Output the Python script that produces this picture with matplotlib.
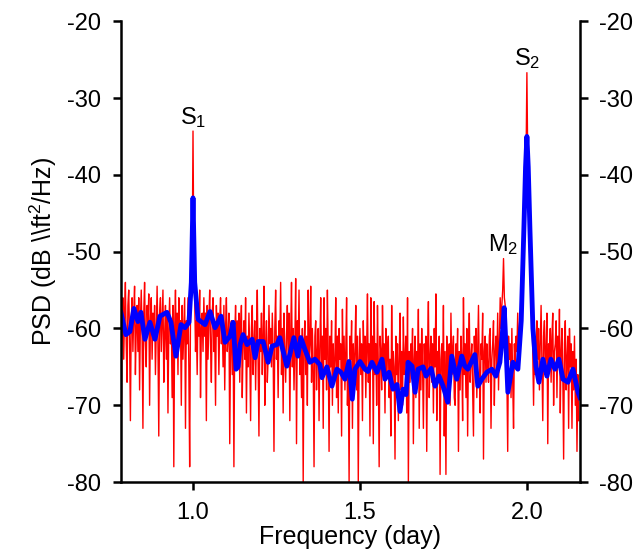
import matplotlib
matplotlib.use("Agg")
import matplotlib.pyplot as plt
import numpy as np

plt.rcParams["font.family"] = ["Liberation Sans", "DejaVu Sans"]
plt.rcParams["mathtext.fontset"] = "custom"
plt.rcParams["mathtext.rm"] = "Liberation Sans"
plt.rcParams["mathtext.it"] = "Liberation Sans:italic"
plt.rcParams["axes.unicode_minus"] = False

# raw periodogram, 0.0025 cycles/day spacing starting at 0.785
raw_f0, raw_df = 0.785, 0.0025
raw_psd = [
    -75, -60, -56, -64, -58, -54, -62, -67, -57, -55, -61, -72, -59, -56, -63, -58, -54.5, -66, -60, -57,
    -63, -56, -68, -59, -55, -61, -73, -58, -54, -62, -65, -57, -60, -55.5, -70, -59, -56, -64, -58, -61,
    -57, -66, -60, -54.5, -62, -74, -58, -56, -63, -59, -55, -67, -61, -57, -64, -58, -71, -60, -56, -62,
    -59, -69, -57, -78, -60, -55, -63, -58, -66, -56, -61, -59, -70, -57, -64, -60, -56, -73, -59, -62,
    -56, -65, -78, -58, -55, -52, -34.3, -51, -56, -63, -59, -66, -57, -61, -55, -69, -60, -58, -63, -56,
    -61, -58, -72, -57, -64, -59, -55, -62, -67, -58, -56, -63, -60, -70, -57, -61, -58, -66, -59, -56,
    -62, -59, -65, -57, -68, -60, -56, -63, -61, -58, -75, -62, -59, -66, -60, -78, -61, -57, -64, -59,
    -63, -58, -67, -60, -57, -69, -62, -59, -64, -56, -71, -61, -65, -58, -63, -72, -60, -57, -66, -62,
    -59, -68, -61, -55, -65, -74, -60, -63, -58, -66, -61, -54.5, -70, -62, -59, -67, -64, -57, -62, -60,
    -65, -58, -63, -76, -60, -55, -64, -61, -69, -59, -62, -54, -66, -60, -71, -58, -63, -67, -61, -57,
    -64, -58, -72, -61, -54, -65, -60, -68, -62, -53.5, -75, -59, -63, -55, -66, -61, -69, -60, -80, -62,
    -59, -66, -61, -70, -55, -64, -62, -54.5, -67, -60, -65, -78, -61, -59, -68, -63, -60, -72, -62, -56,
    -66, -61, -73, -56, -64, -60, -68, -55, -63, -76, -61, -65, -59, -70, -62, -67, -64, -56, -69, -61,
    -71, -60, -64, -62, -74, -57.5, -66, -61, -68, -63, -56, -70, -65, -80, -61, -64, -59, -73, -62, -67,
    -63, -57, -68, -61, -80, -64, -60, -66, -62, -72, -59, -65, -61, -69, -63, -55.5, -67, -62, -74, -56,
    -64, -61, -75, -56.5, -66, -62, -70, -57, -65, -78, -61, -63, -68, -57, -64, -62, -71, -60, -66, -63,
    -61, -69, -64, -74, -57, -67, -63, -65, -77, -61, -66, -62, -72, -64, -58, -68, -63, -70, -58.5, -66,
    -64, -61, -71, -56, -80, -63, -67, -62, -65, -60, -75, -64, -61, -69, -63, -66, -57.5, -73, -62, -68,
    -60, -65, -73, -62, -66, -61, -76, -63, -56.5, -69, -64, -61, -67, -62, -71, -60, -65, -55.5, -72, -63,
    -66, -61, -79, -64, -62, -68, -57, -74, -63, -79, -61, -67, -64, -62, -70, -58, -66, -63, -61, -69,
    -70, -62, -65, -60, -76, -63, -68, -61, -64, -72, -56, -66, -62, -69, -60, -74, -63, -58, -67, -64,
    -62, -68, -74, -61, -65, -60, -69, -63, -57, -66, -71, -62, -64, -58, -77, -63, -61, -67, -62, -65,
    -67, -61, -60, -73, -64, -62, -59, -70, -63, -61, -65, -58, -68, -62, -56, -60, -57, -55, -50.9, -56,
    -57, -63, -66, -76, -61, -64, -62, -69, -60, -67, -73, -62, -65, -61, -63, -58, -64, -60, -58, -62,
    -57, -54, -52, -48, -44, -38, -26.7, -38, -44, -49, -53, -56, -58, -63, -70, -61, -66, -62, -59, -64,
    -60, -68, -62, -57, -65, -72, -61, -59, -66, -63, -58, -75, -62, -64, -60, -67, -61, -58, -70, -63,
    -62, -59, -69, -61, -65, -57.5, -71, -63, -60, -66, -77, -62, -59, -68, -64, -61, -73, -60, -65, -62,
    -73, -63, -68, -61, -70, -64, -76, -66, -72,
]

# smoothed spectrum
smooth_freq = [
    0.784, 0.799, 0.811, 0.823, 0.835, 0.844, 0.856, 0.871, 0.886, 0.901,
    0.922, 0.934, 0.949, 0.964, 0.976, 0.988, 0.995, 1.000, 1.005, 1.015,
    1.036, 1.051, 1.066, 1.075, 1.084, 1.096, 1.111, 1.120, 1.129, 1.135,
    1.141, 1.150, 1.162, 1.177, 1.186, 1.195, 1.210, 1.225, 1.237, 1.251,
    1.260, 1.281, 1.290, 1.302, 1.314, 1.323, 1.335, 1.350, 1.365, 1.380,
    1.386, 1.401, 1.416, 1.431, 1.443, 1.455, 1.467, 1.477, 1.485, 1.500,
    1.515, 1.524, 1.536, 1.551, 1.566, 1.575, 1.587, 1.599, 1.611, 1.620,
    1.629, 1.638, 1.644, 1.656, 1.665, 1.674, 1.689, 1.698, 1.713, 1.725,
    1.737, 1.749, 1.763, 1.775, 1.790, 1.805, 1.814, 1.823, 1.844, 1.853,
    1.865, 1.880, 1.895, 1.907, 1.919, 1.926, 1.932, 1.937, 1.943, 1.958,
    1.973, 1.983, 1.991, 1.996, 2.000, 2.004, 2.009, 2.018, 2.027, 2.036,
    2.048, 2.060, 2.072, 2.084, 2.096, 2.108, 2.123, 2.138, 2.153, 2.159,
]
smooth_psd = [
    -57.9, -60.8, -60.4, -57.4, -59.1, -57.9, -61.4, -59.2, -61.4, -58.4,
    -57.9, -59.2, -63.6, -59.5, -59.9, -59.2, -54.0, -43.0, -54.0, -58.8,
    -59.5, -57.8, -59.9, -59.2, -58.4, -61.8, -61.0, -59.2, -65.3, -65.0,
    -62.1, -60.8, -62.1, -61.4, -63.8, -61.7, -61.7, -64.4, -62.3, -62.1,
    -61.2, -64.9, -63.4, -61.2, -63.6, -61.2, -62.7, -64.4, -64.0, -64.7,
    -66.4, -65.0, -67.5, -65.3, -65.7, -66.6, -64.3, -69.2, -65.3, -64.3,
    -65.3, -65.6, -64.4, -65.7, -64.0, -66.6, -65.7, -67.9, -67.3, -70.8,
    -67.9, -68.6, -64.4, -64.9, -68.3, -65.3, -65.0, -66.2, -65.2, -67.5,
    -66.2, -67.5, -69.6, -63.6, -66.6, -63.6, -64.9, -65.3, -63.4, -67.5,
    -66.6, -65.7, -65.3, -66.2, -64.4, -61.0, -57.3, -62.0, -68.3, -64.4,
    -65.3, -59.0, -47.0, -39.0, -35.0, -39.0, -47.0, -60.0, -64.9, -67.0,
    -64.0, -66.2, -64.0, -65.3, -64.0, -66.6, -67.0, -65.3, -68.3, -69.0,
]

peak_names = ["$\\mathrm{S}_1$", "$\\mathrm{M}_2$", "$\\mathrm{S}_2$"]
peak_freq = [1.000, 1.930, 2.000]
peak_psd = [-34.3, -50.9, -26.7]

raw_freq = raw_f0 + raw_df * np.arange(len(raw_psd))

fig = plt.figure(figsize=(6.43, 5.58), dpi=100)
ax = fig.add_axes([0.188, 0.136, 0.714, 0.826])

ax.plot(raw_freq, raw_psd, color="#ff0000", lw=1.0)
ax.plot(smooth_freq, smooth_psd, color="#0000ff", lw=3.5, solid_joinstyle="round")

for name, f, p in zip(peak_names, peak_freq, peak_psd):
    ax.text(f, p + 0.2, name, ha="center", va="bottom", fontsize=17)

ax.set_xlim(0.784, 2.159)
ax.set_ylim(-80, -20)
ax.set_xticks([1.0, 1.5, 2.0])
ax.set_xticklabels(["1.0", "1.5", "2.0"])
ax.set_yticks(np.arange(-80, -19, 10))

ax.spines["top"].set_visible(False)
for side in ("left", "right", "bottom"):
    ax.spines[side].set_linewidth(1.8)
ax.tick_params(axis="both", direction="out", length=6, width=1.8,
               labelsize=17, pad=8)
ax.tick_params(axis="y", right=True, labelright=True)

ax.set_xlabel("Frequency (day)", fontsize=18, labelpad=1)
ax.set_ylabel(r"PSD (dB \\ft$^2$/Hz)", fontsize=18, labelpad=6)

fig.savefig("out.png", dpi=100)
